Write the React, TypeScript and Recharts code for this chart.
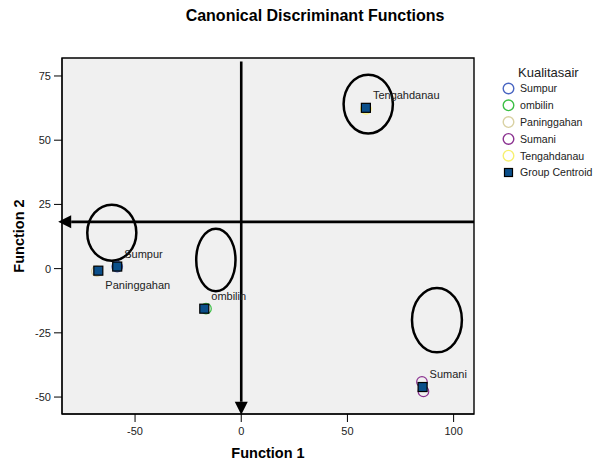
import React from 'react';
import {
  ScatterChart, Scatter, XAxis, YAxis, CartesianGrid, ReferenceArea, ReferenceLine,
} from 'recharts';

const groups = ['Sumpur', 'ombilin', 'Paninggahan', 'Sumani', 'Tengahdanau'];
const groupColors = ['#4a66c2', '#3cbf45', '#d9d1a3', '#8b3290', '#f7f070'];

// group centroids (Function 1, Function 2)
const centroidF1 = [-58.4, -17.4, -67.3, 85.4, 58.7];
const centroidF2 = [0.8, -15.6, -0.8, -46.1, 62.6];

// individual cases
const caseGroup = ['Sumpur', 'Paninggahan', 'ombilin', 'Tengahdanau', 'Sumani', 'Sumani'];
const caseF1 = [-58.4, -68.0, -16.6, 58.7, 85.1, 85.8];
const caseF2 = [0.8, -1.0, -15.6, 62.2, -44.1, -47.8];

const xTicks = [-50, 0, 50, 100];
const yTicks = [-50, -25, 0, 25, 50, 75];
const xDomain = [-84.4, 109.6];
const yDomain = [-56.6, 82];

// hand drawn rings, bounding boxes in function units
const ringX1 = [-72.5, -21.2, 48.2, 80.4];
const ringX2 = [-49.4, -2.7, 71.4, 103.9];
const ringY1 = [3.1, -8.8, 52.6, -32.6];
const ringY2 = [24.9, 15.5, 75.5, -7.5];

// hand drawn arrows, start -> tip
const arrowH = [{ x: 109.6, y: 18.2 }, { x: -86.2, y: 18.2 }];
const arrowV = [{ x: 0, y: 80.6 }, { x: 0, y: -56.9 }];

const labelBelow = ['Paninggahan'];

const FONT = '"Liberation Sans", Arial, sans-serif';
const CENTROID_FILL = '#0b4f8a';

const centroidData = groups.map((name, i) => ({ name, f1: centroidF1[i], f2: centroidF2[i] }));
const caseData = groups.map((g) =>
  caseGroup
    .map((name, i) => ({ name, f1: caseF1[i], f2: caseF2[i] }))
    .filter((d) => d.name === g),
);

const Ring = (p: any) => (
  <ellipse
    cx={p.x + p.width / 2}
    cy={p.y + p.height / 2}
    rx={Math.abs(p.width) / 2}
    ry={Math.abs(p.height) / 2}
    fill="none"
    stroke="#000"
    strokeWidth={2.5}
  />
);

const Arrow = (p: any) => {
  const { x1, y1, x2, y2 } = p;
  const len = Math.hypot(x2 - x1, y2 - y1) || 1;
  const ux = (x2 - x1) / len;
  const uy = (y2 - y1) / len;
  const head = 13;
  const half = 6.5;
  const bx = x2 - ux * head;
  const by = y2 - uy * head;
  const pts = `${x2},${y2} ${bx - uy * half},${by + ux * half} ${bx + uy * half},${by - ux * half}`;
  return (
    <g>
      <line x1={x1} y1={y1} x2={bx} y2={by} stroke="#000" strokeWidth={2.6} />
      <polygon points={pts} fill="#000" />
    </g>
  );
};

const Centroid = (p: any) => {
  const { cx, cy, payload } = p;
  const below = labelBelow.includes(payload.name);
  return (
    <g>
      <rect x={cx - 4.5} y={cy - 4.5} width={9} height={9} fill={CENTROID_FILL} stroke="#000" strokeWidth={1.2} />
      <text
        x={cx + 7}
        y={below ? cy + 18 : cy - 9}
        fontSize={11}
        fontFamily={FONT}
        style={{ fill: '#222', stroke: 'none' }}
      >
        {payload.name}
      </text>
    </g>
  );
};

const caseShape = (color: string) => (p: any) => (
  <circle cx={p.cx} cy={p.cy} r={5.3} fill="none" stroke={color} strokeWidth={1.2} />
);

const tickStyle = { fill: '#222', fontSize: 11, fontFamily: FONT };

export default function App() {
  return (
    <div style={{ position: 'relative', width: 586, height: 455, fontFamily: FONT, background: '#fff' }}>
      <ScatterChart width={586} height={455} margin={{ top: 50, right: 120, bottom: 19, left: 0 }}>
        <CartesianGrid horizontal={false} vertical={false} fill="#f0f0f0" />
        <ReferenceArea
          x1={xDomain[0]} x2={xDomain[1]} y1={yDomain[0]} y2={yDomain[1]}
          fill="none" stroke="#000" strokeWidth={1.4} fillOpacity={0}
        />
        <XAxis
          type="number"
          dataKey="f1"
          domain={xDomain}
          ticks={xTicks}
          allowDataOverflow
          height={30}
          tickSize={8}
          tickMargin={5}
          stroke="#000"
          tick={tickStyle}
          label={{ value: 'Function 1', position: 'bottom', offset: 4, fill: '#000', fontSize: 14.5, fontWeight: 'bold' }}
        />
        <YAxis
          type="number"
          dataKey="f2"
          domain={yDomain}
          ticks={yTicks}
          allowDataOverflow
          width={54}
          tickSize={8}
          tickMargin={3}
          stroke="#000"
          tick={tickStyle}
          label={{
            value: 'Function 2', angle: -90, position: 'insideLeft', offset: 11,
            fill: '#000', fontSize: 14.5, fontWeight: 'bold', style: { textAnchor: 'middle' },
          }}
        />
        {groups.map((g, i) => (
          <Scatter key={g} name={g} data={caseData[i]} shape={caseShape(groupColors[i])} isAnimationActive={false} />
        ))}
        <Scatter name="Group Centroid" data={centroidData} shape={Centroid} isAnimationActive={false} />
        {ringX1.map((x1, i) => (
          <ReferenceArea key={`ring-${i}`} x1={x1} x2={ringX2[i]} y1={ringY1[i]} y2={ringY2[i]} shape={Ring} />
        ))}
        <ReferenceLine segment={arrowH} ifOverflow="visible" shape={Arrow} />
        <ReferenceLine segment={arrowV} ifOverflow="visible" shape={Arrow} />
      </ScatterChart>
      <svg width={586} height={455} style={{ position: 'absolute', left: 0, top: 0, pointerEvents: 'none' }}>
        <text x={307} y={13} textAnchor="middle" fontSize={16} fontWeight="bold" fontFamily={FONT} fill="#000">
          Canonical Discriminant Functions
        </text>
        <text x={510} y={69} fontSize={13} fontFamily={FONT} fill="#222">Kualitasair</text>
        {groups.map((g, i) => (
          <g key={g}>
            <circle cx={500.5} cy={80.5 + i * 16.8} r={5.3} fill="none" stroke={groupColors[i]} strokeWidth={1.4} />
            <text x={512} y={84.3 + i * 16.8} fontSize={10.6} fontFamily={FONT} fill="#222">{g}</text>
          </g>
        ))}
        <rect x={496.5} y={160.5} width={8} height={8} fill={CENTROID_FILL} stroke="#000" strokeWidth={1.2} />
        <text x={512} y={168.3} fontSize={10.6} fontFamily={FONT} fill="#222">Group Centroid</text>
      </svg>
    </div>
  );
}
